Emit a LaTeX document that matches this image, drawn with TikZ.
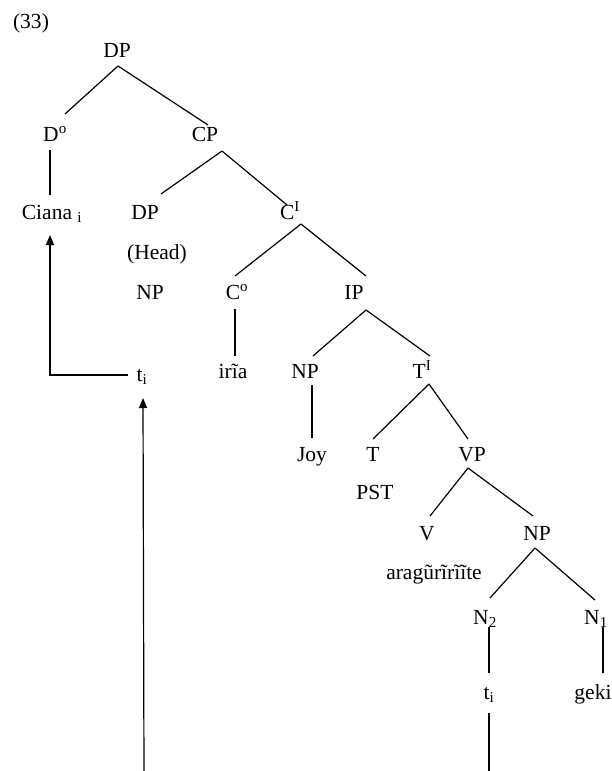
\documentclass[tikz,border=0pt]{standalone}
\usepackage{fontspec}
\setmainfont{Liberation Serif}
\usetikzlibrary{arrows.meta}
\begin{document}
\begin{tikzpicture}[x=1bp,y=-1bp,
  lab/.style={inner sep=0pt, outer sep=0pt, text height=14bp, text depth=4bp,
    font=\fontsize{21.5bp}{25bp}\selectfont, anchor=center},
  edge/.style={line width=1.2bp, black},
  mv/.style={line width=1.2bp, black, -{Triangle[width=8bp,length=10bp]}}]
\useasboundingbox (0,0) rectangle (612,771);
\clip (0,0) rectangle (612,771);
% labels
\node[lab] (n33) at (31,24) {(33)};
\node[lab] (DPa) at (117,53) {DP};
\node[lab] (Do) at (55,136) {D\textsuperscript{o}};
\node[lab] (CP) at (205,136) {CP};
\node[lab] (Ciana) at (52,214) {Ciana \textsubscript{i}};
\node[lab] (DPb) at (145,214) {DP};
\node[lab] (CI) at (290,214) {C\textsuperscript{I}};
\node[lab] (Head) at (157,254) {(Head)};
\node[lab] (NPa) at (150,294) {NP};
\node[lab] (Co) at (237,294) {C\textsuperscript{o}};
\node[lab] (IP) at (354,294) {IP};
\node[lab] (iria) at (233,373) {irĩa};
\node[lab] (ti1) at (142,376) {t\textsubscript{i}};
\node[lab] (NPb) at (305,373) {NP};
\node[lab] (TI) at (422,373) {T\textsuperscript{I}};
\node[lab] (Joy) at (312,456) {Joy};
\node[lab] (T) at (373,456) {T};
\node[lab] (VP) at (472,456) {VP};
\node[lab] (PST) at (375,494) {PST};
\node[lab] (V) at (427,535) {V};
\node[lab] (NPc) at (537,535) {NP};
\node[lab] (arag) at (434,574) {aragũrĩrĩĩte};
\node[lab] (N2) at (485,619) {N\textsubscript{2}};
\node[lab] (N1) at (596,619) {N\textsubscript{1}};
\node[lab] (ti2) at (489,694) {t\textsubscript{i}};
\node[lab] (geki) at (593,694) {geki};
\coordinate (bot1) at (144,776);
\coordinate (bot2) at (489,776);
% tree lines
\draw[edge] ([shift={(1,13)}]DPa.center) -- ([shift={(10,-22)}]Do.center);
\draw[edge] ([shift={(1,13)}]DPa.center) -- ([shift={(3,-11)}]CP.center);
\draw[edge] ([shift={(-5,14)}]Do.center) -- ([shift={(-2,-19)}]Ciana.center);
\draw[edge] ([shift={(17,15)}]CP.center) -- ([shift={(16,-20)}]DPb.center);
\draw[edge] ([shift={(17,15)}]CP.center) -- ([shift={(-3,-9)}]CI.center);
\draw[edge] ([shift={(11,10)}]CI.center) -- ([shift={(-2,-18)}]Co.center);
\draw[edge] ([shift={(11,10)}]CI.center) -- ([shift={(12,-18)}]IP.center);
\draw[edge] ([shift={(-2,15)}]Co.center) -- ([shift={(2,-17)}]iria.center);
\draw[edge] ([shift={(12,16)}]IP.center) -- ([shift={(8,-17)}]NPb.center);
\draw[edge] ([shift={(12,16)}]IP.center) -- ([shift={(8,-17)}]TI.center);
\draw[edge] ([shift={(7,12)}]NPb.center) -- ([shift={(0,-18)}]Joy.center);
\draw[edge] ([shift={(7,11)}]TI.center) -- ([shift={(0,-17)}]T.center);
\draw[edge] ([shift={(7,11)}]TI.center) -- ([shift={(-4,-17)}]VP.center);
\draw[edge] ([shift={(-4,12)}]VP.center) -- ([shift={(3,-19)}]V.center);
\draw[edge] ([shift={(-4,12)}]VP.center) -- ([shift={(-4,-19)}]NPc.center);
\draw[edge] ([shift={(-2,13)}]NPc.center) -- ([shift={(5,-21)}]N2.center);
\draw[edge] ([shift={(-2,13)}]NPc.center) -- ([shift={(-1,-19)}]N1.center);
\draw[edge] ([shift={(4,8)}]N2.center) -- ([shift={(0,-21)}]ti2.center);
\draw[edge] ([shift={(7,8)}]N1.center) -- ([shift={(10,-21)}]geki.center);
\draw[edge] ([shift={(0,19)}]ti2.center) -- (bot2);
% movement arrows
\draw[mv] ([shift={(-14,-1)}]ti1.center) -| ([shift={(-2,21)}]Ciana.center);
\draw[mv] (bot1) -- ([shift={(1,22)}]ti1.center);
\end{tikzpicture}
\end{document}
